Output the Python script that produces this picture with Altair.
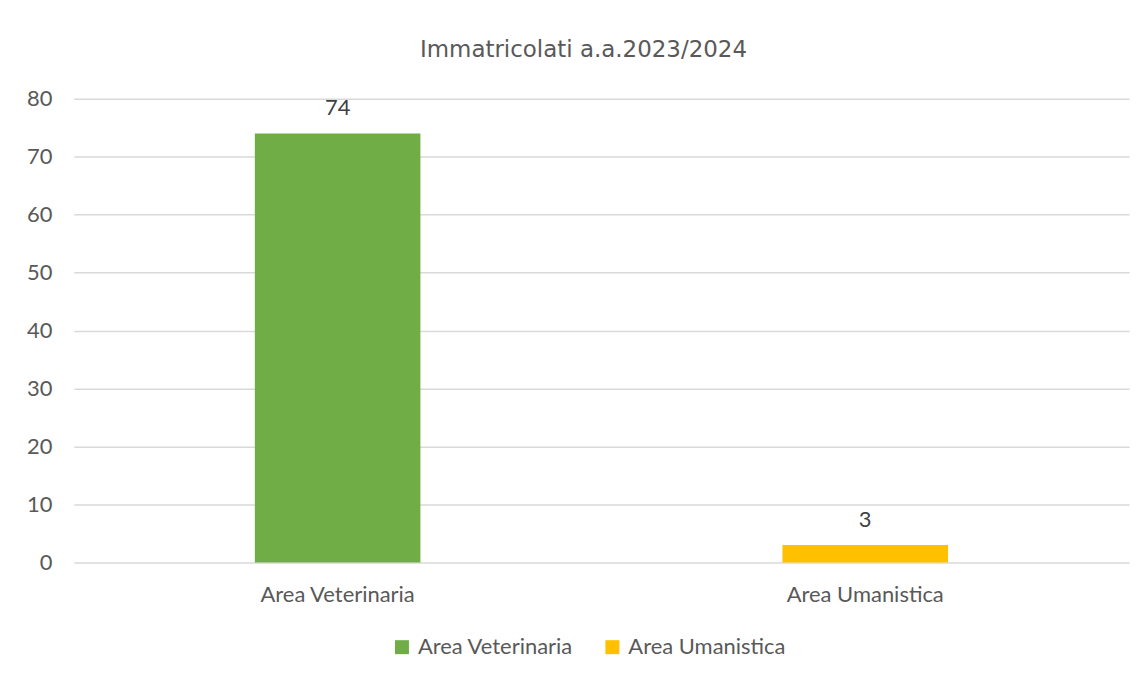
import altair as alt
import pandas as pd

categories = ["Area Veterinaria", "Area Umanistica"]
values = [74, 3]
colors = ["#70AD47", "#FFC000"]

df = pd.DataFrame({"area": categories, "n": values})

FONT = "Lato"
FS = 22

base = alt.Chart(df).encode(
    x=alt.X("area:N", sort=categories, title=None,
            scale=alt.Scale(paddingInner=0, paddingOuter=0),
            axis=alt.Axis(labelAngle=0, labelFontSize=FS, labelColor="#595959",
                          labelFont=FONT, labelPadding=22, domain=False, ticks=False)),
)

bars = base.mark_bar(size=166).encode(
    y=alt.Y("n:Q", title=None,
            scale=alt.Scale(domain=[0, 80]),
            axis=alt.Axis(values=list(range(0, 81, 10)), labelFontSize=FS,
                          labelColor="#595959", labelFont=FONT, labelPadding=22,
                          domain=False, ticks=False, gridColor="#d9d9d9",
                          gridWidth=1.5)),
    color=alt.Color("area:N", sort=categories,
                    scale=alt.Scale(domain=categories, range=colors),
                    legend=alt.Legend(title=None, orient="none", direction="horizontal",
                                      legendX=318, legendY=539,
                                      symbolType="square", symbolSize=196,
                                      symbolStrokeWidth=0, labelFontSize=FS,
                                      labelColor="#595959", labelFont=FONT,
                                      columnPadding=28, labelOffset=5)),
)

labels = base.mark_text(fontSize=FS, color="#404040", font=FONT,
                        baseline="alphabetic", dy=-18).encode(
    y=alt.Y("n:Q"),
    text=alt.Text("n:Q"),
)

chart = (bars + labels).properties(
    width=1058, height=465,
    title=alt.TitleParams("Immatricolati a.a.2023/2024", fontSize=23,
                          color="#595959", font="DejaVu Sans", fontWeight="normal",
                          anchor="middle", dx=-18, offset=26),
    padding={"left": 66, "top": 90, "right": 10, "bottom": 100},
    autosize=alt.AutoSizeParams(type="none"),
).configure_view(stroke=None)

chart.save("out.html", embed_options={"renderer": "svg", "actions": False})
